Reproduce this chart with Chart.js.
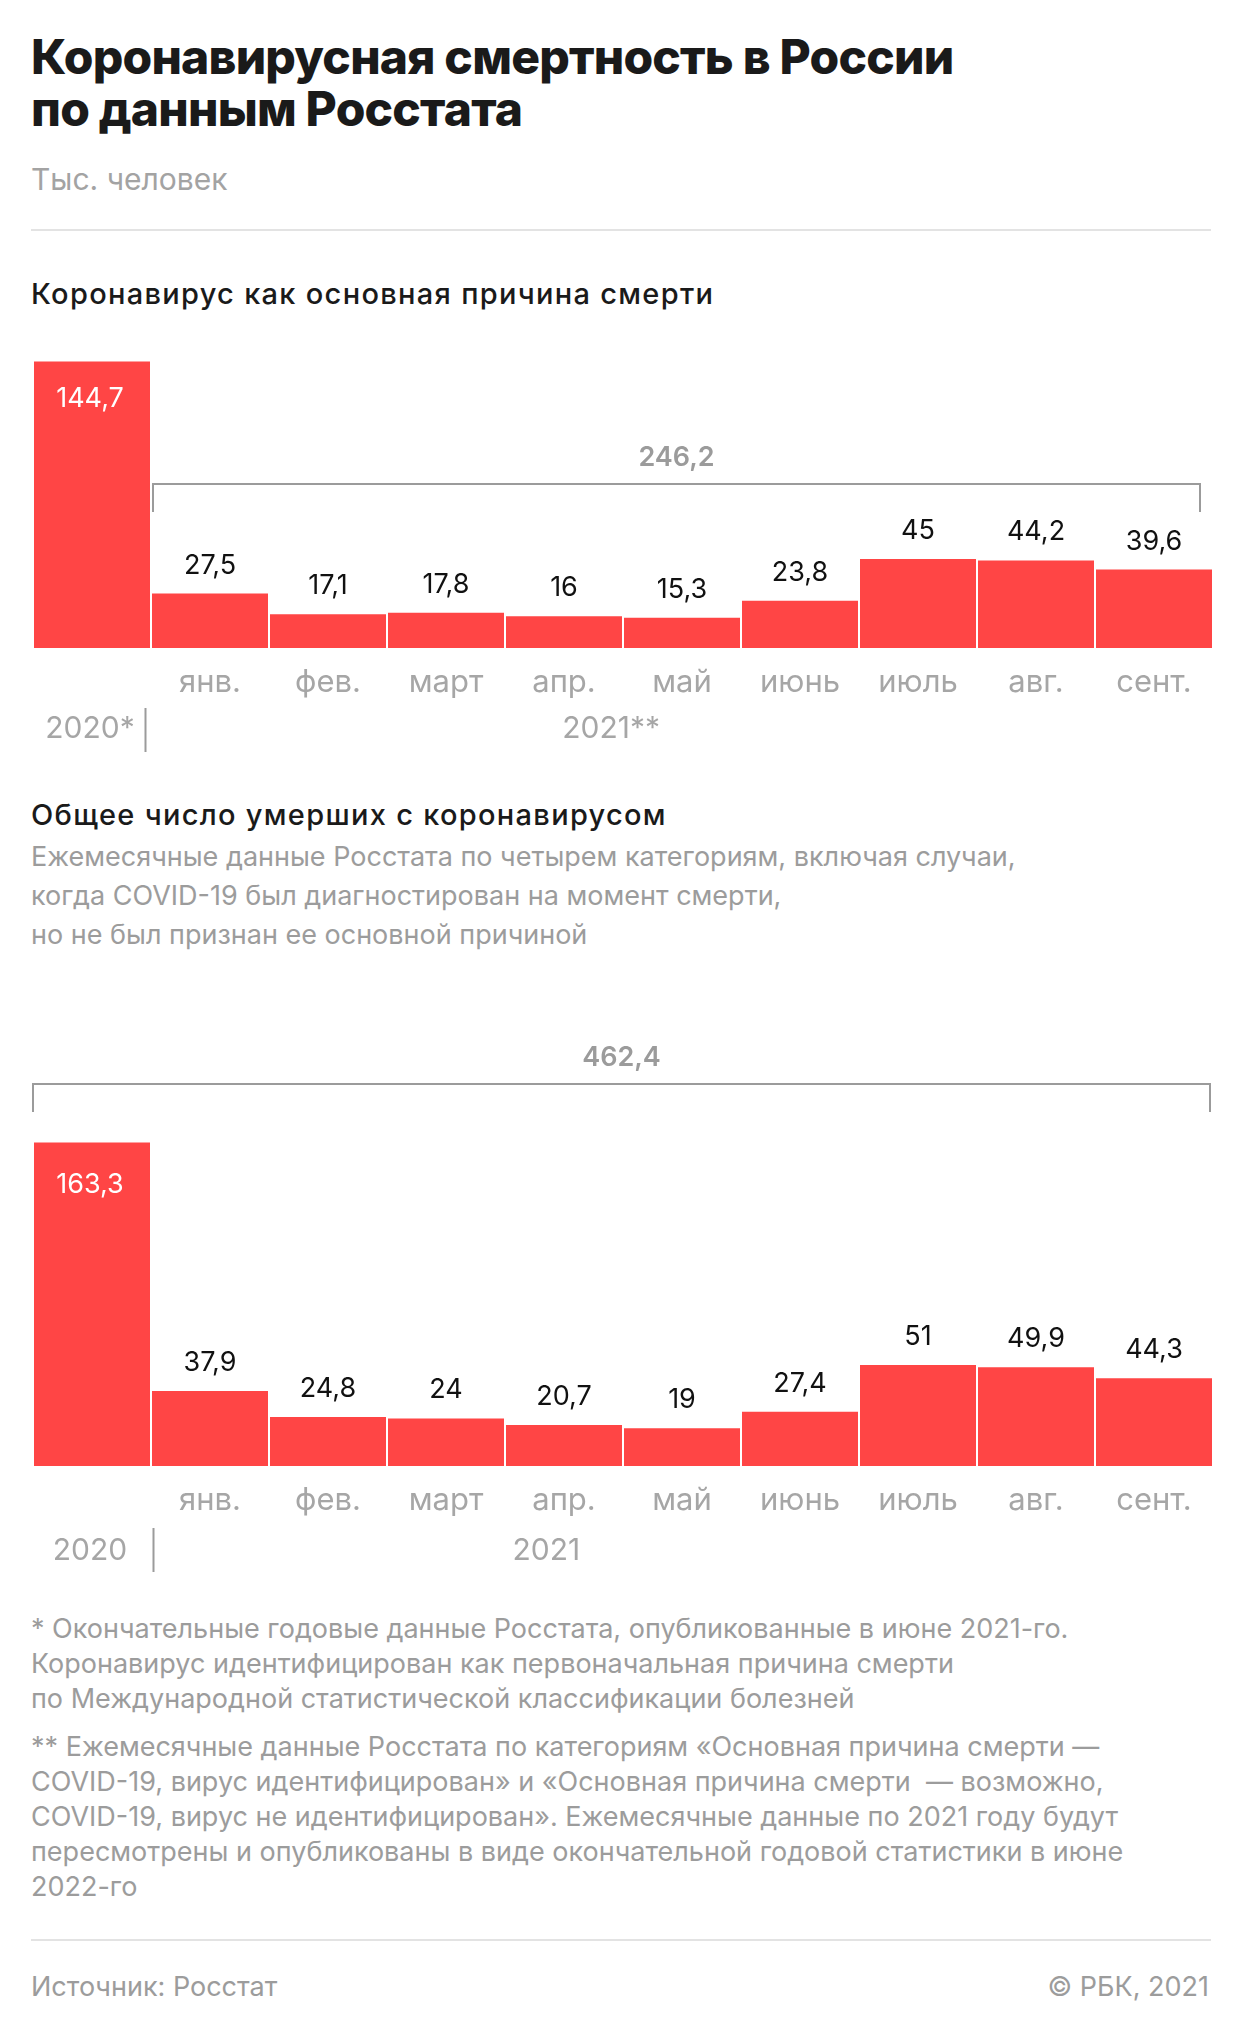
<!DOCTYPE html>
<html lang="ru">
<head>
<meta charset="utf-8">
<script src="https://cdn.jsdelivr.net/npm/chart.js@4.4.1/dist/chart.umd.min.js"></script>
<style>
html,body{margin:0;padding:0;background:#fff;}
body{width:1240px;height:2040px;position:relative;overflow:hidden;font-family:Inter,"Noto Sans",sans-serif;}
.t{position:absolute;left:31px;white-space:nowrap;margin:0;}
#title{top:31px;font-size:48px;line-height:52px;font-weight:800;color:#1a1a1a;letter-spacing:-0.8px;}
#unit{top:162px;font-size:30px;line-height:34px;color:#a3a3a3;}
.rule{position:absolute;left:31px;width:1180px;height:2px;background:#e3e3e3;}
.h2{font-size:29px;line-height:32px;font-weight:500;color:#1a1a1a;letter-spacing:1.3px;}
#h2a{top:278px;}
#h2b{top:799px;}
#desc{top:837px;font-size:27px;line-height:39px;color:#9c9c9c;}
.fn{font-size:27px;line-height:35px;color:#9c9c9c;}
#fn1{top:1611px;}
#fn2{top:1729px;}
#src{top:1972px;font-size:27px;line-height:30px;color:#9c9c9c;}
#copy{position:absolute;top:1972px;right:31px;font-size:27px;line-height:30px;color:#9c9c9c;white-space:nowrap;}
canvas{position:absolute;left:0;}
#c1{top:330px;}
#c2{top:1020px;}
</style>
</head>
<body>
<div class="t" id="title">Коронавирусная смертность в России<br>по данным Росстата</div>
<div class="t" id="unit">Тыс. человек</div>
<div class="rule" style="top:229px"></div>
<div class="t h2" id="h2a">Коронавирус как основная причина смерти</div>
<canvas id="c1" width="1240" height="440" style="width:1240px;height:440px"></canvas>
<div class="t h2" id="h2b">Общее число умерших с коронавирусом</div>
<div class="t" id="desc">Ежемесячные данные Росстата по четырем категориям, включая случаи,<br>когда COVID-19 был диагностирован на момент смерти,<br>но не был признан ее основной причиной</div>
<canvas id="c2" width="1240" height="570" style="width:1240px;height:570px"></canvas>
<div class="t fn" id="fn1">* Окончательные годовые данные Росстата, опубликованные в июне 2021-го.<br>Коронавирус идентифицирован как первоначальная причина смерти<br>по Международной статистической классификации болезней</div>
<div class="t fn" id="fn2">** Ежемесячные данные Росстата по категориям «Основная причина смерти —<br>COVID-19, вирус идентифицирован» и «Основная причина смерти&nbsp; — возможно,<br>COVID-19, вирус не идентифицирован». Ежемесячные данные по 2021 году будут<br>пересмотрены и опубликованы в виде окончательной годовой статистики в июне<br>2022-го</div>
<div class="rule" style="top:1939px"></div>
<div class="t" id="src">Источник: Росстат</div>
<div id="copy">© РБК, 2021</div>
<script>
// ---- data ----
const categories = ['2020', 'янв.', 'фев.', 'март', 'апр.', 'май', 'июнь', 'июль', 'авг.', 'сент.'];
const monthLabels = ['', 'янв.', 'фев.', 'март', 'апр.', 'май', 'июнь', 'июль', 'авг.', 'сент.'];
const mainCause = [144.7, 27.5, 17.1, 17.8, 16, 15.3, 23.8, 45, 44.2, 39.6];
const totalDeaths = [163.3, 37.9, 24.8, 24, 20.7, 19, 27.4, 51, 49.9, 44.3];
const yearLabels1 = ['2020*', '2021**'];
const yearLabels2 = ['2020', '2021'];
const bracketTotal1 = '246,2';
const bracketTotal2 = '462,4';

const RED = '#ff4545';
const fmt = v => String(v).replace('.', ',');

const annot = {
  id: 'annot',
  afterDatasetsDraw(chart, args, o) {
    const ctx = chart.ctx;
    const x = chart.scales.x, y = chart.scales.y;
    const meta = chart.getDatasetMeta(0);
    const data = chart.data.datasets[0].data;
    const base = y.getPixelForValue(0);
    ctx.save();
    ctx.textAlign = 'center';
    ctx.textBaseline = 'alphabetic';
    // value labels
    ctx.font = '400 27px Inter, "Noto Sans", sans-serif';
    meta.data.forEach((bar, i) => {
      const t = fmt(data[i]);
      if (i === 0) {
        ctx.fillStyle = '#ffffff';
        ctx.fillText(t, bar.x - 2, bar.y + o.insideOffset);
      } else {
        ctx.fillStyle = '#111111';
        ctx.fillText(t, bar.x, bar.y - 20);
      }
    });
    // month labels
    ctx.font = '400 31px Inter, "Noto Sans", sans-serif';
    ctx.fillStyle = '#a6a6a6';
    o.months.forEach((m, i) => {
      if (m) ctx.fillText(m, x.getPixelForValue(i), base + 44);
    });
    // year labels
    ctx.font = '400 30px Inter, "Noto Sans", sans-serif';
    ctx.fillText(o.years[0], x.getPixelForValue(0) - 2, base + o.yearDy);
    ctx.fillText(o.years[1], x.getPixelForValue(o.year2Pos), base + o.yearDy);
    // separator
    ctx.strokeStyle = '#9b9b9b';
    ctx.lineWidth = 2;
    const sx = Math.round(x.getPixelForValue(o.sepPos)) + 0.5;
    ctx.beginPath();
    ctx.moveTo(sx, base + o.sepTop);
    ctx.lineTo(sx, base + o.sepTop + 44);
    ctx.stroke();
    // bracket
    const b0 = meta.data[o.bracketFrom], b1 = meta.data[o.bracketTo];
    const left = b0.x - b0.width / 2 + o.bracketInsetL;
    const right = b1.x + b1.width / 2 - o.bracketInsetR;
    const by = o.bracketY;
    ctx.beginPath();
    ctx.moveTo(left + 1, by + 28);
    ctx.lineTo(left + 1, by);
    ctx.lineTo(right - 1, by);
    ctx.lineTo(right - 1, by + 28);
    ctx.stroke();
    ctx.font = '600 27px Inter, "Noto Sans", sans-serif';
    ctx.fillStyle = '#9b9b9b';
    ctx.fillText(o.total, (left + right) / 2, by - 18);
    ctx.restore();
  }
};

function makeChart(id, values, yMax, padTop, padBottom, annotOpts) {
  return new Chart(document.getElementById(id), {
    type: 'bar',
    data: {
      labels: categories,
      datasets: [{
        data: values,
        backgroundColor: RED,
        borderWidth: 0,
        barPercentage: 0.983,
        categoryPercentage: 1.0
      }]
    },
    options: {
      responsive: false,
      animation: false,
      devicePixelRatio: 1,
      layout: { padding: { left: 33, right: 27, top: padTop, bottom: padBottom } },
      scales: {
        x: { display: false },
        y: { display: false, min: 0, max: yMax }
      },
      plugins: {
        legend: { display: false },
        tooltip: { enabled: false },
        annot: annotOpts
      }
    },
    plugins: [annot]
  });
}

makeChart('c1', mainCause, 160.6, 0, 122, {
  insideOffset: 46, months: monthLabels, years: yearLabels1, yearDy: 90, year2Pos: 4.4,
  sepPos: 0.45, sepTop: 60, bracketFrom: 1, bracketTo: 9, bracketInsetL: 0, bracketInsetR: 11,
  bracketY: 154, total: bracketTotal1
});
makeChart('c2', totalDeaths, 184.8, 80, 124, {
  insideOffset: 50, months: monthLabels, years: yearLabels2, yearDy: 94, year2Pos: 3.85,
  sepPos: 0.52, sepTop: 62, bracketFrom: 0, bracketTo: 9, bracketInsetL: -2, bracketInsetR: 1,
  bracketY: 64, total: bracketTotal2
});
</script>
</body>
</html>
